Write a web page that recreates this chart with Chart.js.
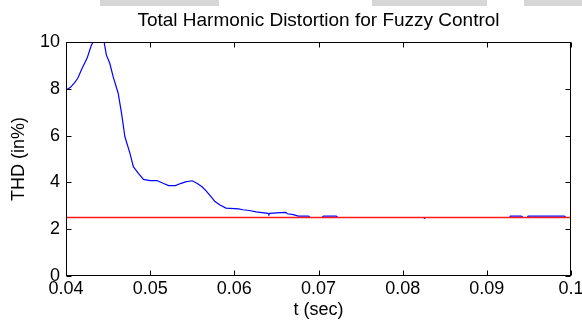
<!DOCTYPE html>
<html>
<head>
<meta charset="utf-8">
<title>Total Harmonic Distortion for Fuzzy Control</title>
<script src="https://cdn.jsdelivr.net/npm/chart.js@4/dist/chart.umd.min.js"></script>
<style>
  html, body { margin: 0; padding: 0; background: #fff; }
  #wrap { position: relative; width: 582px; height: 327px; overflow: hidden; }
  canvas { position: absolute; left: 0; top: 0; }
  .strip { position: absolute; top: 0; height: 6px; background: #d7d7d7; }
</style>
</head>
<body>
<div id="wrap">
  <div class="strip" style="left:100px;width:119px"></div>
  <div class="strip" style="left:372px;width:115px"></div>
  <div class="strip" style="left:524px;width:58px"></div>
  <canvas id="thd" width="582" height="327"></canvas>
</div>
<script>
// Time axis (s) and THD (%) of the fuzzy-controlled system
const timeSec = [
  0.0400, 0.0405, 0.0410, 0.0414, 0.0419, 0.0425, 0.0430, 0.0433, 0.0437, 0.0441,
  0.0445, 0.0448, 0.0452, 0.0456, 0.0462, 0.0466, 0.0470, 0.0476, 0.0480, 0.0486,
  0.0492, 0.0500, 0.0508, 0.0516, 0.0522, 0.0530, 0.0536, 0.0542, 0.0550, 0.0556,
  0.0562, 0.0567, 0.0572, 0.0577, 0.0583, 0.0590, 0.0600, 0.0605, 0.0610, 0.0618,
  0.0626, 0.0635, 0.0640, 0.0641, 0.0642, 0.0650, 0.0661, 0.0663, 0.0670, 0.0676,
  0.0688, 0.0690, 0.0704, 0.0706, 0.0721, 0.0723, 0.0825, 0.0826, 0.0827, 0.0927,
  0.0928, 0.0941, 0.0943, 0.0948, 0.0949, 0.0992, 0.0994, 0.1000
];
const thdPercent = [
  7.95, 8.05, 8.25, 8.45, 8.87, 9.30, 9.85, 10.05, 10.25, 10.25,
  10.05, 9.44, 9.09, 8.52, 7.81, 6.95, 5.95, 5.24, 4.67, 4.39,
  4.13, 4.08, 4.08, 3.95, 3.86, 3.86, 3.95, 4.02, 4.07, 3.95,
  3.80, 3.62, 3.40, 3.18, 3.03, 2.90, 2.88, 2.87, 2.83, 2.80,
  2.74, 2.70, 2.68, 2.63, 2.68, 2.70, 2.72, 2.66, 2.62, 2.56,
  2.56, 2.50, 2.50, 2.56, 2.56, 2.50, 2.50, 2.46, 2.50, 2.50,
  2.56, 2.56, 2.50, 2.50, 2.56, 2.56, 2.50, 2.50
];

// Reference level (limit line)
const limitTime = [0.04, 0.1];
const limitTHD = [2.5, 2.5];

// Axis ticks
const xTicks = [0.04, 0.05, 0.06, 0.07, 0.08, 0.09, 0.1];
const yTicks = [0, 2, 4, 6, 8, 10];

const TITLE = 'Total Harmonic Distortion for Fuzzy Control';
const FONT = 'Liberation Sans, Arial, Helvetica, sans-serif';

const toPoints = (xs, ys) => xs.map((v, i) => ({ x: v, y: ys[i] }));

// Box frame with inward tick marks on all four sides, plus the plot title
// centred over the plotting area
const frameTicks = {
  id: 'frameTicks',
  afterDatasetsDraw(chart) {
    const { ctx, chartArea: a, scales: { x, y } } = chart;
    const L = Math.round(a.left) + 0.5, R = Math.round(a.right) - 0.5;
    const T = Math.round(a.top) + 0.5, B = Math.round(a.bottom) - 0.5;
    const len = 5;
    ctx.save();
    ctx.strokeStyle = '#000';
    ctx.lineWidth = 1;
    ctx.strokeRect(L, T, R - L, B - T);
    ctx.beginPath();
    x.ticks.forEach(t => {
      const px = Math.round(x.getPixelForValue(t.value)) + 0.5;
      ctx.moveTo(px, B); ctx.lineTo(px, B - len);
      ctx.moveTo(px, T); ctx.lineTo(px, T + len);
    });
    y.ticks.forEach(t => {
      const py = Math.round(y.getPixelForValue(t.value)) + 0.5;
      ctx.moveTo(L, py); ctx.lineTo(L + len, py);
      ctx.moveTo(R, py); ctx.lineTo(R - len, py);
    });
    ctx.stroke();

    ctx.fillStyle = '#000';
    ctx.font = '19px ' + FONT;
    ctx.textAlign = 'center';
    ctx.textBaseline = 'alphabetic';
    ctx.fillText(TITLE, (a.left + a.right) / 2, a.top - 16);
    ctx.restore();
  }
};

new Chart(document.getElementById('thd'), {
  type: 'line',
  data: {
    datasets: [
      {
        label: 'Limit',
        data: toPoints(limitTime, limitTHD),
        borderColor: '#ff1a1a',
        borderWidth: 1.5,
        pointRadius: 0,
        tension: 0,
        clip: 0
      },
      {
        label: 'THD',
        data: toPoints(timeSec, thdPercent),
        borderColor: '#0000ff',
        borderWidth: 1.2,
        pointRadius: 0,
        tension: 0,
        clip: 0
      }
    ]
  },
  options: {
    responsive: false,
    animation: false,
    devicePixelRatio: 1,
    layout: { padding: { left: 0, right: 11, top: 42, bottom: 0 } },
    plugins: {
      legend: { display: false },
      tooltip: { enabled: false },
      title: { display: false }
    },
    scales: {
      x: {
        type: 'linear',
        min: 0.04,
        max: 0.1,
        afterBuildTicks: s => { s.ticks = xTicks.map(v => ({ value: v })); },
        afterFit: s => { s.height = 51; s.paddingLeft = 0; s.paddingRight = 0; },
        grid: { display: false, drawTicks: false },
        border: { display: false },
        ticks: {
          color: '#000',
          padding: 2,
          maxRotation: 0,
          autoSkip: false,
          font: { family: FONT, size: 18 },
          callback: v => String(+Number(v).toFixed(2))
        },
        title: {
          display: true,
          text: 't (sec)',
          color: '#000',
          font: { family: FONT, size: 18 },
          padding: { top: 0, bottom: 6 }
        }
      },
      y: {
        type: 'linear',
        min: 0,
        max: 10,
        afterBuildTicks: s => { s.ticks = yTicks.map(v => ({ value: v })); },
        afterFit: s => { s.width = 66; s.paddingTop = 0; s.paddingBottom = 0; },
        grid: { display: false, drawTicks: false },
        border: { display: false },
        ticks: {
          color: '#000',
          padding: 6,
          autoSkip: false,
          font: { family: FONT, size: 18 },
          callback: v => String(v)
        },
        title: {
          display: true,
          text: 'THD (in%)',
          color: '#000',
          font: { family: FONT, size: 18 },
          padding: { top: 8, bottom: 0 }
        }
      }
    }
  },
  plugins: [frameTicks]
});
</script>
</body>
</html>
